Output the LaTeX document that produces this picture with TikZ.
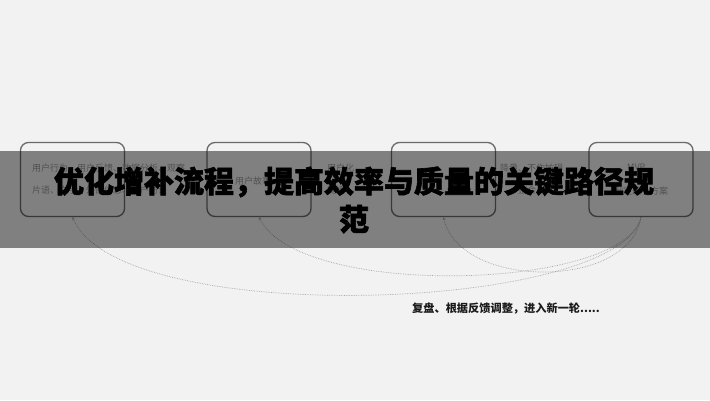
\documentclass[tikz,border=0pt]{standalone}
\usepackage{fontspec}
\newfontfamily\cjk{Noto Sans CJK SC}
\newfontfamily\cjkheavy[FakeBold=2]{Noto Sans CJK SC}
\usetikzlibrary{arrows.meta}
\definecolor{bg}{HTML}{F2F2F2}
\definecolor{boxgray}{HTML}{6A6A6A}
\definecolor{notegray}{HTML}{999999}
\definecolor{loopgray}{HTML}{A8A8A8}
\definecolor{inkgray}{HTML}{1A1A1A}

\begin{document}
\begin{tikzpicture}[x=1pt, y=-1pt, font=\cjk,
block/.style={rectangle, draw=boxgray, line width=1.3pt, rounded corners=8pt,
      minimum width=104pt, minimum height=74pt, inner sep=0pt},
note/.style={anchor=west, text=notegray, inner sep=0pt,
      font=\cjk\fontsize{9}{11}\selectfont},
loop/.style={densely dotted, draw=loopgray, line width=0.7pt,
      -{Stealth[length=3pt, width=3pt]}},
banner/.style={fill=black, fill opacity=0.47, draw=none},
heading/.style={align=center, text=black, inner sep=0pt,
      font=\cjkheavy\bfseries\fontsize{30}{38}\selectfont},
caption/.style={text=inkgray, inner sep=0pt,
      font=\cjk\bfseries\fontsize{11.2}{13}\selectfont},]
 \useasboundingbox (0,0) rectangle (710,400);
 \fill[bg] (0,0) rectangle (710,400);

 \node[block] (research) at (72.5,179.5) {};
 \node[block] (story) at (259,179.5) {};
 \node[block] (refine) at (443.5,179.5) {};
 \node[block] (mvp) at (641,179.5) {};

 \node[note] (research1) at (32,168) {用户行为、用户反馈、数据分析、观察};
 \node[note] (research2) at (32,190) {片语、文字、外部信息、用户访谈};
 \node[note] (story1) at (235,181) {用户故事};
 \node[note] (story2) at (327,168) {用户化};
 \node[note] (story3) at (327,190) {提炼};
 \node[note] (refine1) at (500,168) {降量、不作妨碍};
 \node[note] (refine2) at (518,190) {整合};
 \node[note] (mvp1) at (627,167) {MVP};
 \node[note] (mvp2) at (614,191) {制定最小方案};

 \draw[loop] (mvp.south) .. controls (620,312) and (120,330) .. (research.south);
 \draw[loop] (mvp.south) .. controls (625,290) and (300,300) .. (story.south);
 \draw[loop] (mvp.south) .. controls (630,290) and (460,290) .. (refine.south);

 \path[banner] (0,151) rectangle (710,248);
 \node[heading] (title) at (354,200) {优化增补流程，提高效率与质量的关键路径规\\范};

 \node[caption] (review) at (506,309) {复盘、根据反馈调整，进入新一轮.....};
\end{tikzpicture}
\end{document}
